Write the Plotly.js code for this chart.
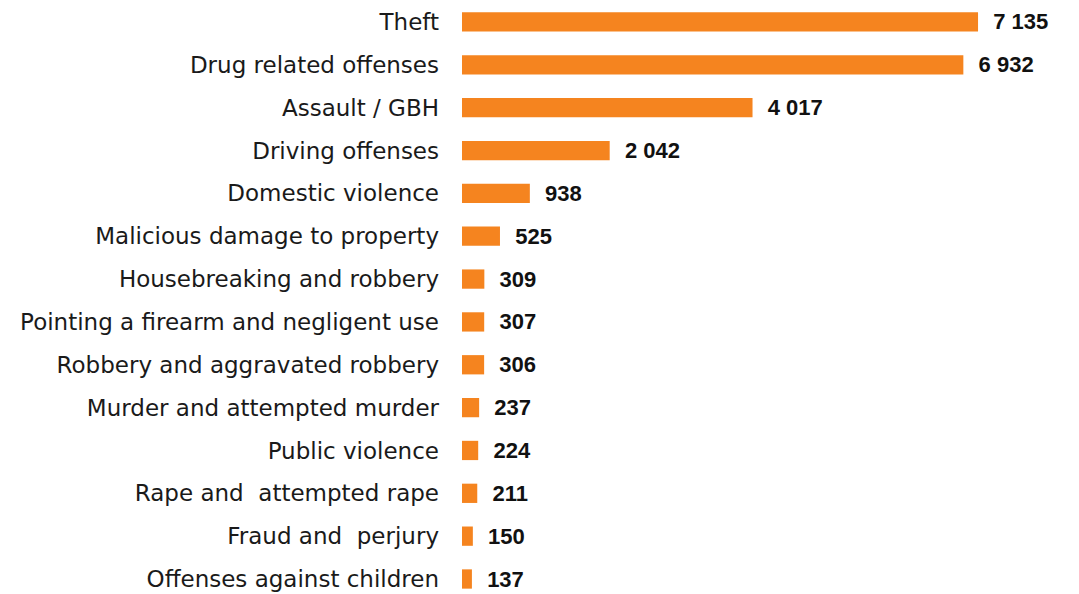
<!DOCTYPE html>
<html>
<head>
<meta charset="utf-8">
<script src="https://cdn.plot.ly/plotly-3.0.1.min.js"></script>
<style>html,body{margin:0;padding:0;background:#fff;}#chart{width:1079px;height:594px;}</style>
</head>
<body>
<div id="chart"></div>
<script>
const categories = [
  "Theft",
  "Drug related offenses",
  "Assault / GBH",
  "Driving offenses",
  "Domestic violence",
  "Malicious damage to property",
  "Housebreaking and robbery",
  "Pointing a firearm and negligent use",
  "Robbery and aggravated robbery",
  "Murder and attempted murder",
  "Public violence",
  "Rape and  attempted rape",
  "Fraud and  perjury",
  "Offenses against children"
];
const values = [7135, 6932, 4017, 2042, 938, 525, 309, 307, 306, 237, 224, 211, 150, 137];

const cats = categories.slice().reverse();
const vals = values.slice().reverse();

const trace = {
  type: 'bar',
  orientation: 'h',
  x: vals,
  y: cats.map(c => c.replace(/  /g, '\u00a0 ')),
  marker: {color: '#F5841F'},
  width: 0.45,
  texttemplate: '\u00a0\u00a0%{x:,}',
  textposition: 'outside',
  constraintext: 'none',
  cliponaxis: false,
  textfont: {family: 'Liberation Sans', size: 22, color: '#111111', weight: 'bold'},
  hoverinfo: 'none'
};

const layout = {
  width: 1079,
  height: 594,
  margin: {l: 462, r: 0, t: 0, b: 0, pad: 0},
  paper_bgcolor: '#ffffff',
  plot_bgcolor: '#ffffff',
  separators: '. ',
  showlegend: false,
  uniformtext: {mode: false},
  xaxis: {range: [0, 8531], visible: false, fixedrange: true},
  yaxis: {
    type: 'category',
    range: [-0.35, 13.513],
    showgrid: false,
    zeroline: false,
    showline: false,
    ticks: '',
    ticklabelstandoff: 22,
    tickfont: {family: 'DejaVu Sans', size: 23, color: '#1a1a1a'},
    fixedrange: true
  }
};

Plotly.newPlot('chart', [trace], layout, {displayModeBar: false, staticPlot: true});
</script>
</body>
</html>
